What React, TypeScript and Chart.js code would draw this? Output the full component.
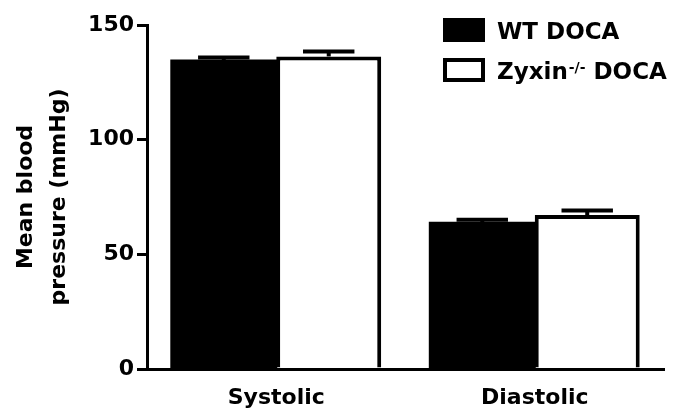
import React, { useEffect, useRef } from 'react';
import { Chart, registerables } from 'chart.js';

Chart.register(...registerables);

const categories = ['Systolic', 'Diastolic'];
const seriesLabels = ['WT DOCA', 'Zyxin-/- DOCA'];
const wtMean = [134.5, 63.8];
const wtSem = [1.3, 1.3];
const zyxinMean = [136.3, 67.1];
const zyxinSem = [2.1, 2.0];
const yTickValues = [0, 50, 100, 150];
const yTitleLines = ['Mean blood', 'pressure (mmHg)'];

const FONT = "'DejaVu Sans', 'Liberation Sans', sans-serif";

const errorBarPlugin = {
  id: 'errorBars',
  afterDatasetsDraw(chart: any) {
    const ctx = chart.ctx;
    const yScale = chart.scales.y;
    chart.data.datasets.forEach((ds: any, i: number) => {
      const meta = chart.getDatasetMeta(i);
      meta.data.forEach((bar: any, j: number) => {
        const { x, y: top, width } = bar.getProps(['x', 'y', 'width'], true);
        const capY = yScale.getPixelForValue(ds.data[j] + ds.errors[j]);
        const half = width * 0.245;
        ctx.save();
        ctx.strokeStyle = '#000';
        ctx.lineWidth = 4;
        ctx.beginPath();
        ctx.moveTo(x, top);
        ctx.lineTo(x, capY);
        ctx.stroke();
        ctx.beginPath();
        ctx.moveTo(x - half, capY);
        ctx.lineTo(x + half, capY);
        ctx.stroke();
        ctx.restore();
      });
    });
  },
};

const legendPlugin = {
  id: 'customLegend',
  afterDraw(chart: any) {
    const ctx = chart.ctx;
    const rows = [30, 70];
    ctx.save();
    chart.data.datasets.forEach((ds: any, i: number) => {
      const cy = rows[i];
      ctx.fillStyle = ds.backgroundColor;
      ctx.fillRect(443, cy - 12, 42, 24);
      if (ds.borderWidth) {
        ctx.strokeStyle = ds.borderColor;
        ctx.lineWidth = 4;
        ctx.strokeRect(445, cy - 10, 38, 20);
      }
      ctx.fillStyle = '#000';
      ctx.textBaseline = 'alphabetic';
      ctx.textAlign = 'left';
      const baseY = cy + 8.5;
      const big = `bold 23px ${FONT}`;
      const small = `bold 14px ${FONT}`;
      let x = 497;
      const m = /^(.*?)(-\/-)(.*)$/.exec(ds.label);
      if (m) {
        ctx.font = big;
        ctx.fillText(m[1], x, baseY);
        x += ctx.measureText(m[1]).width + 1;
        ctx.font = small;
        ctx.fillText(m[2], x, baseY - 7);
        x += ctx.measureText(m[2]).width;
        ctx.font = big;
        ctx.fillText(m[3], x, baseY);
      } else {
        ctx.font = big;
        ctx.fillText(ds.label, x, baseY);
      }
    });
    ctx.restore();
  },
};

export default function App() {
  const ref = useRef<HTMLCanvasElement>(null);

  useEffect(() => {
    if (!ref.current) return;
    const chart = new Chart(ref.current, {
      type: 'bar',
      data: {
        labels: categories,
        datasets: [
          {
            label: seriesLabels[0],
            data: wtMean,
            errors: wtSem,
            backgroundColor: '#000',
            borderColor: '#000',
            borderWidth: 0,
            inflateAmount: 1,
          } as any,
          {
            label: seriesLabels[1],
            data: zyxinMean,
            errors: zyxinSem,
            backgroundColor: '#fff',
            borderColor: '#000',
            borderWidth: 4,
            borderSkipped: 'bottom',
          } as any,
        ],
      },
      options: {
        responsive: true,
        maintainAspectRatio: false,
        animation: false,
        layout: { padding: { top: 25, right: 11, left: 0, bottom: 0 } },
        datasets: { bar: { categoryPercentage: 0.812, barPercentage: 1.0 } },
        plugins: { legend: { display: false }, tooltip: { enabled: false } },
        scales: {
          x: {
            grid: { display: false, drawTicks: false },
            border: { display: true, color: '#000', width: 3 },
            ticks: {
              color: '#000',
              font: { family: FONT, size: 22, weight: 'bold' },
              padding: 16,
            },
            afterFit(s: any) {
              s.height = 45;
            },
          },
          y: {
            min: 0,
            max: 150,
            afterBuildTicks(s: any) {
              s.ticks = yTickValues.map((v) => ({ value: v }));
            },
            grid: {
              drawOnChartArea: false,
              drawTicks: true,
              tickLength: 10,
              color: '#000',
              lineWidth: 3,
            },
            border: { display: true, color: '#000', width: 3 },
            ticks: {
              color: '#000',
              font: { family: FONT, size: 22, weight: 'bold' },
              padding: 3,
            },
            title: {
              display: true,
              text: yTitleLines,
              color: '#000',
              font: { family: FONT, size: 22, weight: 'bold', lineHeight: 1.53 },
              padding: { top: 9, bottom: 0 },
            },
            afterFit(s: any) {
              s.width = 147;
            },
          },
        },
      } as any,
      plugins: [errorBarPlugin, legendPlugin],
    });
    return () => chart.destroy();
  }, []);

  return (
    <div style={{ position: 'absolute', left: 0, top: 0, width: 675, height: 414 }}>
      <canvas ref={ref} />
    </div>
  );
}
